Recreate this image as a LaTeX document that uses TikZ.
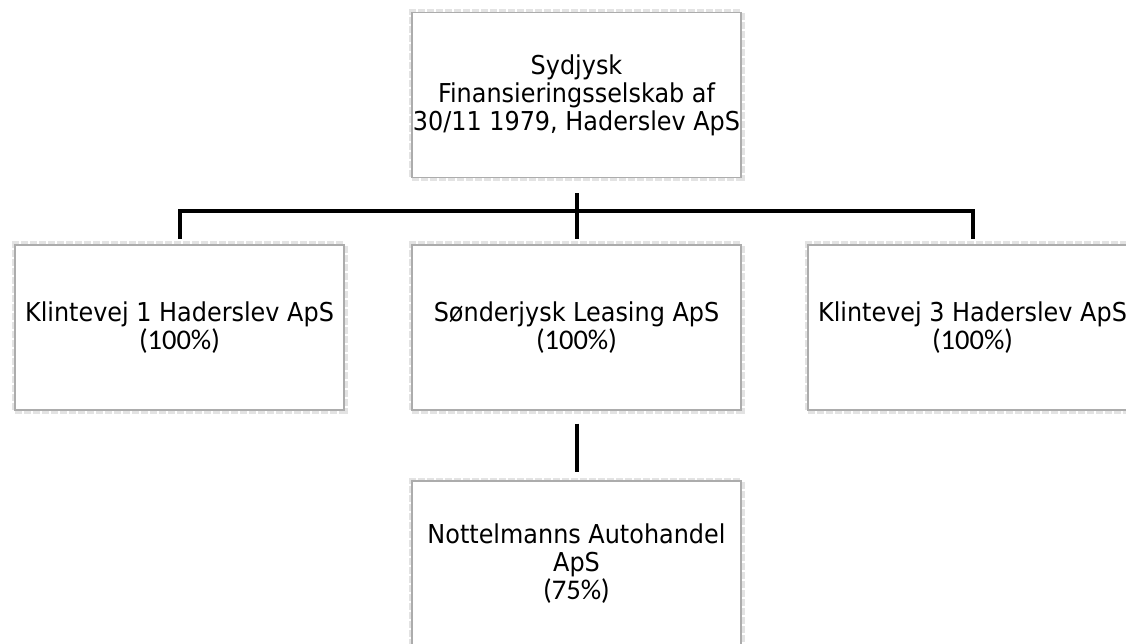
\documentclass[tikz,border=0pt]{standalone}
\usepackage{fontspec}
\newfontfamily\namefont[FakeStretch=0.92]{DejaVu Sans}
\newfontfamily\pctfont{Carlito}
\newcommand{\pctline}[1]{{\pctfont\fontsize{28.5}{28}\selectfont #1}}
\begin{document}
\begin{tikzpicture}[x=1pt,y=-1pt,
  orgbox/.style={draw=gray!65, line width=1.3pt, fill=white,
    minimum width=329pt, minimum height=165pt, inner sep=0pt,
    align=center, font=\namefont\fontsize{26}{28}\selectfont,
    preaction={draw=gray!22, line width=7pt, dotted}},
  conn/.style={draw=black, line width=4pt}]
\useasboundingbox (0,0) rectangle (1126,644);
\fill[white] (0,0) rectangle (1126,644);
\node[orgbox] (top) at (576.5,95) {Sydjysk\\Finansieringsselskab af\\30/11 1979, Haderslev ApS};
\node[orgbox] (l) at (179.5,327.5) {\raisebox{-3pt}{Klintevej 1 Haderslev ApS}\\\pctline{(100\%)}};
\node[orgbox] (m) at (576.5,327.5) {\raisebox{-3pt}{Sønderjysk Leasing ApS}\\\pctline{(100\%)}};
\node[orgbox] (r) at (972.5,327.5) {\raisebox{-3pt}{Klintevej 3 Haderslev ApS}\\\pctline{(100\%)}};
\node[orgbox] (b) at (576.5,563.5) {Nottelmanns Autohandel\\ApS\\\pctline{(75\%)}};
\coordinate (bar) at (576.5,211);
\draw[conn, shorten <=15pt, shorten >=5pt] (top.south) -- (m.north);
\draw[conn, shorten >=5pt] (bar) -| (l.north);
\draw[conn, shorten >=5pt] (bar) -| (r.north);
\draw[conn, shorten <=13pt, shorten >=8pt] (m.south) -- (b.north);
\end{tikzpicture}
\end{document}
